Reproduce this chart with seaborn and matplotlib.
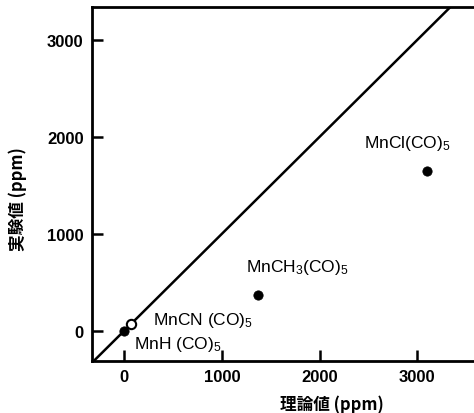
import matplotlib
matplotlib.use("Agg")
import matplotlib.pyplot as plt
import seaborn as sns
import pandas as pd

compounds = ["MnH (CO)$_5$", "MnCN (CO)$_5$", "MnCH$_3$(CO)$_5$", "MnCl(CO)$_5$"]
theory = [0, 70, 1370, 3100]
experiment = [0, 70, 370, 1650]
filled = [True, False, True, True]
ticks = [0, 1000, 2000, 3000]
line_x = [-400, 3700]

sns.set_style("ticks")
plt.rcParams['font.family'] = ['Liberation Sans', 'Noto Sans CJK JP', 'DejaVu Sans']
plt.rcParams['mathtext.default'] = 'regular'
for k in ['text.color', 'axes.labelcolor', 'xtick.color', 'ytick.color', 'axes.edgecolor']:
    plt.rcParams[k] = 'black'

df = pd.DataFrame({"compound": compounds, "theory": theory,
                   "experiment": experiment, "filled": filled})

fig = plt.figure(figsize=(4.74, 4.14), dpi=100)
ax = fig.add_axes([0.194, 0.126, 0.806, 0.855])

ax.plot(line_x, line_x, color="black", lw=1.8, zorder=1)

sns.scatterplot(data=df[df.filled], x="theory", y="experiment", ax=ax,
                color="black", edgecolor="black", s=45, zorder=3, legend=False)
sns.scatterplot(data=df[~df.filled], x="theory", y="experiment", ax=ax,
                facecolor="white", edgecolor="black", linewidth=1.5, s=45,
                zorder=4, legend=False)

ax.set_xlim(-330, 3580)
ax.set_ylim(-310, 3340)
ax.set_xticks(ticks)
ax.set_yticks(ticks)
ax.set_xticklabels([str(t) for t in ticks], fontsize=12, fontweight="bold")
ax.set_yticklabels([str(t) for t in ticks], fontsize=12, fontweight="bold")
ax.tick_params(direction="in", length=8, width=1.8, pad=6, colors="black")
for s in ["left", "bottom", "top"]:
    ax.spines[s].set_linewidth(2)
    ax.spines[s].set_color("black")
ax.spines["right"].set_visible(False)

ax.set_xlabel("")
ax.set_ylabel("")
fig.text(0.70, 0.022, "理論値 (ppm)", ha="center", va="center", fontsize=12,
         fontweight="bold", family=['Noto Sans CJK JP', 'DejaVu Sans'])
fig.text(0.038, 0.52, "実験値 (ppm)", ha="center", va="center", fontsize=12,
         fontweight="bold", rotation=90, family=['Noto Sans CJK JP', 'DejaVu Sans'])

label_pos = [(100, -135), (290, 120), (1250, 660), (2450, 1940)]
for name, (lx, ly) in zip(compounds, label_pos):
    ax.text(lx, ly, name, fontsize=12.5, ha="left", va="center")

fig.savefig("out.png", dpi=100)
